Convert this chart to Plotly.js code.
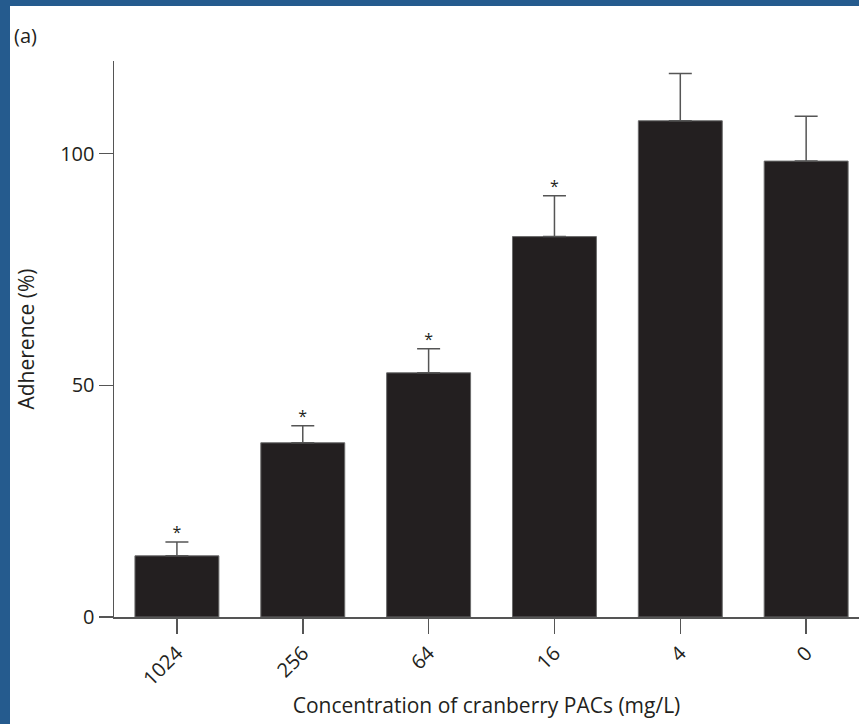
<!DOCTYPE html>
<html>
<head>
<meta charset="utf-8">
<script src="https://cdn.plot.ly/plotly-3.0.1.min.js"></script>
<style>
html,body{margin:0;padding:0;background:#255b8e;width:859px;height:724px;overflow:hidden;}
#chart{position:absolute;left:10px;top:6px;width:849px;height:718px;background:#fff;}
</style>
</head>
<body>
<div id="chart"></div>
<script>
const categories = ["1024", "256", "64", "16", "4", "0"];
const adherence = [13.2, 37.6, 52.7, 82.1, 107.1, 98.4];
const errorUp = [3.0, 3.7, 5.2, 8.8, 10.2, 9.7];
const significant = ["*", "*", "*", "*", "", ""];
const yTicks = [0, 50, 100];

const FONT = "'Open Sans', 'DejaVu Sans', sans-serif";
const TXT = "#231f20";

const bars = {
  type: "bar",
  x: categories,
  y: adherence,
  width: 0.667,
  marker: {color: "#231f20", line: {color: "#6b6b6b", width: 1}},
  error_y: {
    type: "data", symmetric: false,
    array: errorUp,
    arrayminus: errorUp.map(() => 0),
    color: "#555555", thickness: 1.5, width: 11.5
  },
  hoverinfo: "skip",
  showlegend: false
};

const stars = {
  type: "scatter",
  mode: "text",
  x: categories,
  y: adherence.map((v, i) => v + errorUp[i]),
  text: significant,
  textposition: "top center",
  textfont: {family: FONT, size: 16, color: TXT},
  hoverinfo: "skip",
  showlegend: false,
  cliponaxis: false
};

const layout = {
  width: 849, height: 718,
  margin: {l: 104, r: 0, t: 55, b: 107},
  paper_bgcolor: "#ffffff",
  plot_bgcolor: "#ffffff",
  font: {family: FONT, color: TXT, size: 18},
  bargap: 0.333,
  xaxis: {
    type: "category",
    range: [-0.5, 5.42],
    showline: true, linecolor: "#555555", linewidth: 1.5,
    ticks: "outside", ticklen: 15, tickwidth: 1.5, tickcolor: "#555555",
    tickangle: -45,
    tickfont: {family: FONT, size: 20, color: TXT},
    showgrid: false, zeroline: false,
    title: {text: "Concentration of cranberry PACs (mg/L)", font: {family: FONT, size: 21, color: TXT}, standoff: 8},
    automargin: false
  },
  yaxis: {
    range: [0, 120],
    tickvals: yTicks,
    ticktext: yTicks.map(String),
    showline: true, linecolor: "#555555", linewidth: 1.5,
    ticks: "outside", ticklen: 14, tickwidth: 1.5, tickcolor: "#555555",
    tickfont: {family: FONT, size: 20, color: TXT},
    showgrid: false, zeroline: false,
    title: {text: "Adherence (%)", font: {family: FONT, size: 21, color: TXT}, standoff: 20},
    automargin: false
  },
  annotations: [{
    text: "(a)", xref: "paper", yref: "paper", x: -0.137, y: 1.045,
    xanchor: "left", yanchor: "middle", showarrow: false,
    font: {family: FONT, size: 20, color: TXT}
  }]
};

Plotly.newPlot("chart", [bars, stars], layout, {displayModeBar: false, staticPlot: true});
</script>
</body>
</html>
